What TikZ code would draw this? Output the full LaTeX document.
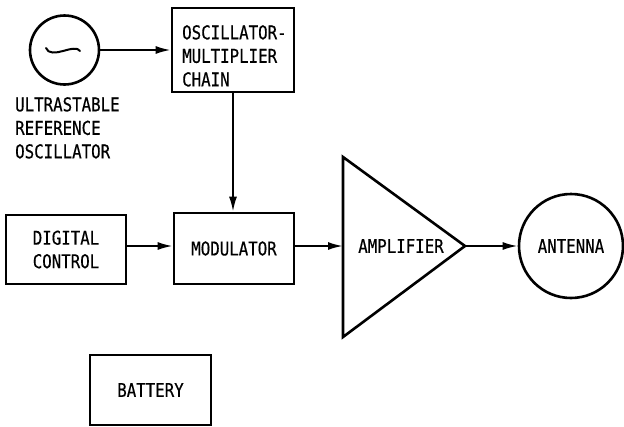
\documentclass[tikz,border=0pt]{standalone}
\usepackage{fontspec}
\newfontfamily\lettering[FakeStretch=0.83, FakeBold=0.5]{DejaVu Sans Mono}
\usetikzlibrary{arrows.meta}

\begin{document}
\begin{tikzpicture}[x=1pt, y=-1pt,
  blk/.style={draw, line width=2.6pt, inner sep=0pt, align=center},
  sig/.style={-{Latex[length=15pt,width=8pt]}, line width=2pt},
  font=\lettering\fontsize{19}{23.5}\selectfont]

  \useasboundingbox (0,0) rectangle (624,426);

  % reference oscillator
  \node[blk, circle, minimum size=69pt] (osc) at (64.5,50) {};
  \draw[line width=2pt, line cap=round] (46,48) .. controls (48,54) and (56,53) .. (63,51)
    .. controls (70,49) and (78,47) .. (80,51);
  \node[anchor=north west, align=left, inner sep=0pt] (osclbl) at (15,97)
    {ULTRASTABLE\\REFERENCE\\OSCILLATOR};

  % multiplier chain
  \node[blk, minimum width=122pt, minimum height=84pt] (chain) at (233,50) {};
  \node[anchor=north west, align=left, inner sep=0pt] (chaintxt) at (182,25)
    {OSCILLATOR-\\MULTIPLIER\\CHAIN};

  % signal row
  \node[blk, minimum width=120pt, minimum height=69pt] (dc) at (66,249.5) {DIGITAL\\CONTROL};
  \node[blk, minimum width=120pt, minimum height=71pt] (mod) at (234,248.5) {MODULATOR};
  \node (amp) at (401,246) {AMPLIFIER};
  \coordinate (ampin) at (343,246);
  \coordinate (ampout) at (465,246);
  \draw[line width=2.6pt, line join=miter] (343,157) -- (ampout) -- (343,337) -- cycle;
  \node[blk, circle, minimum size=104pt] (ant) at (571,246) {ANTENNA};

  % power
  \node[blk, minimum width=121pt, minimum height=70pt] (bat) at (150.5,390) {BATTERY};

  % connections
  \draw[sig] (osc) -- (chain.west |- osc);
  \draw[sig] (chain.south) -- (chain.south |- mod.north);
  \draw[sig] (dc.east |- amp) -- (mod.west |- amp);
  \draw[sig] (mod.east |- amp) -- (ampin);
  \draw[sig] (ampout) -- (ant);

\end{tikzpicture}
\end{document}
